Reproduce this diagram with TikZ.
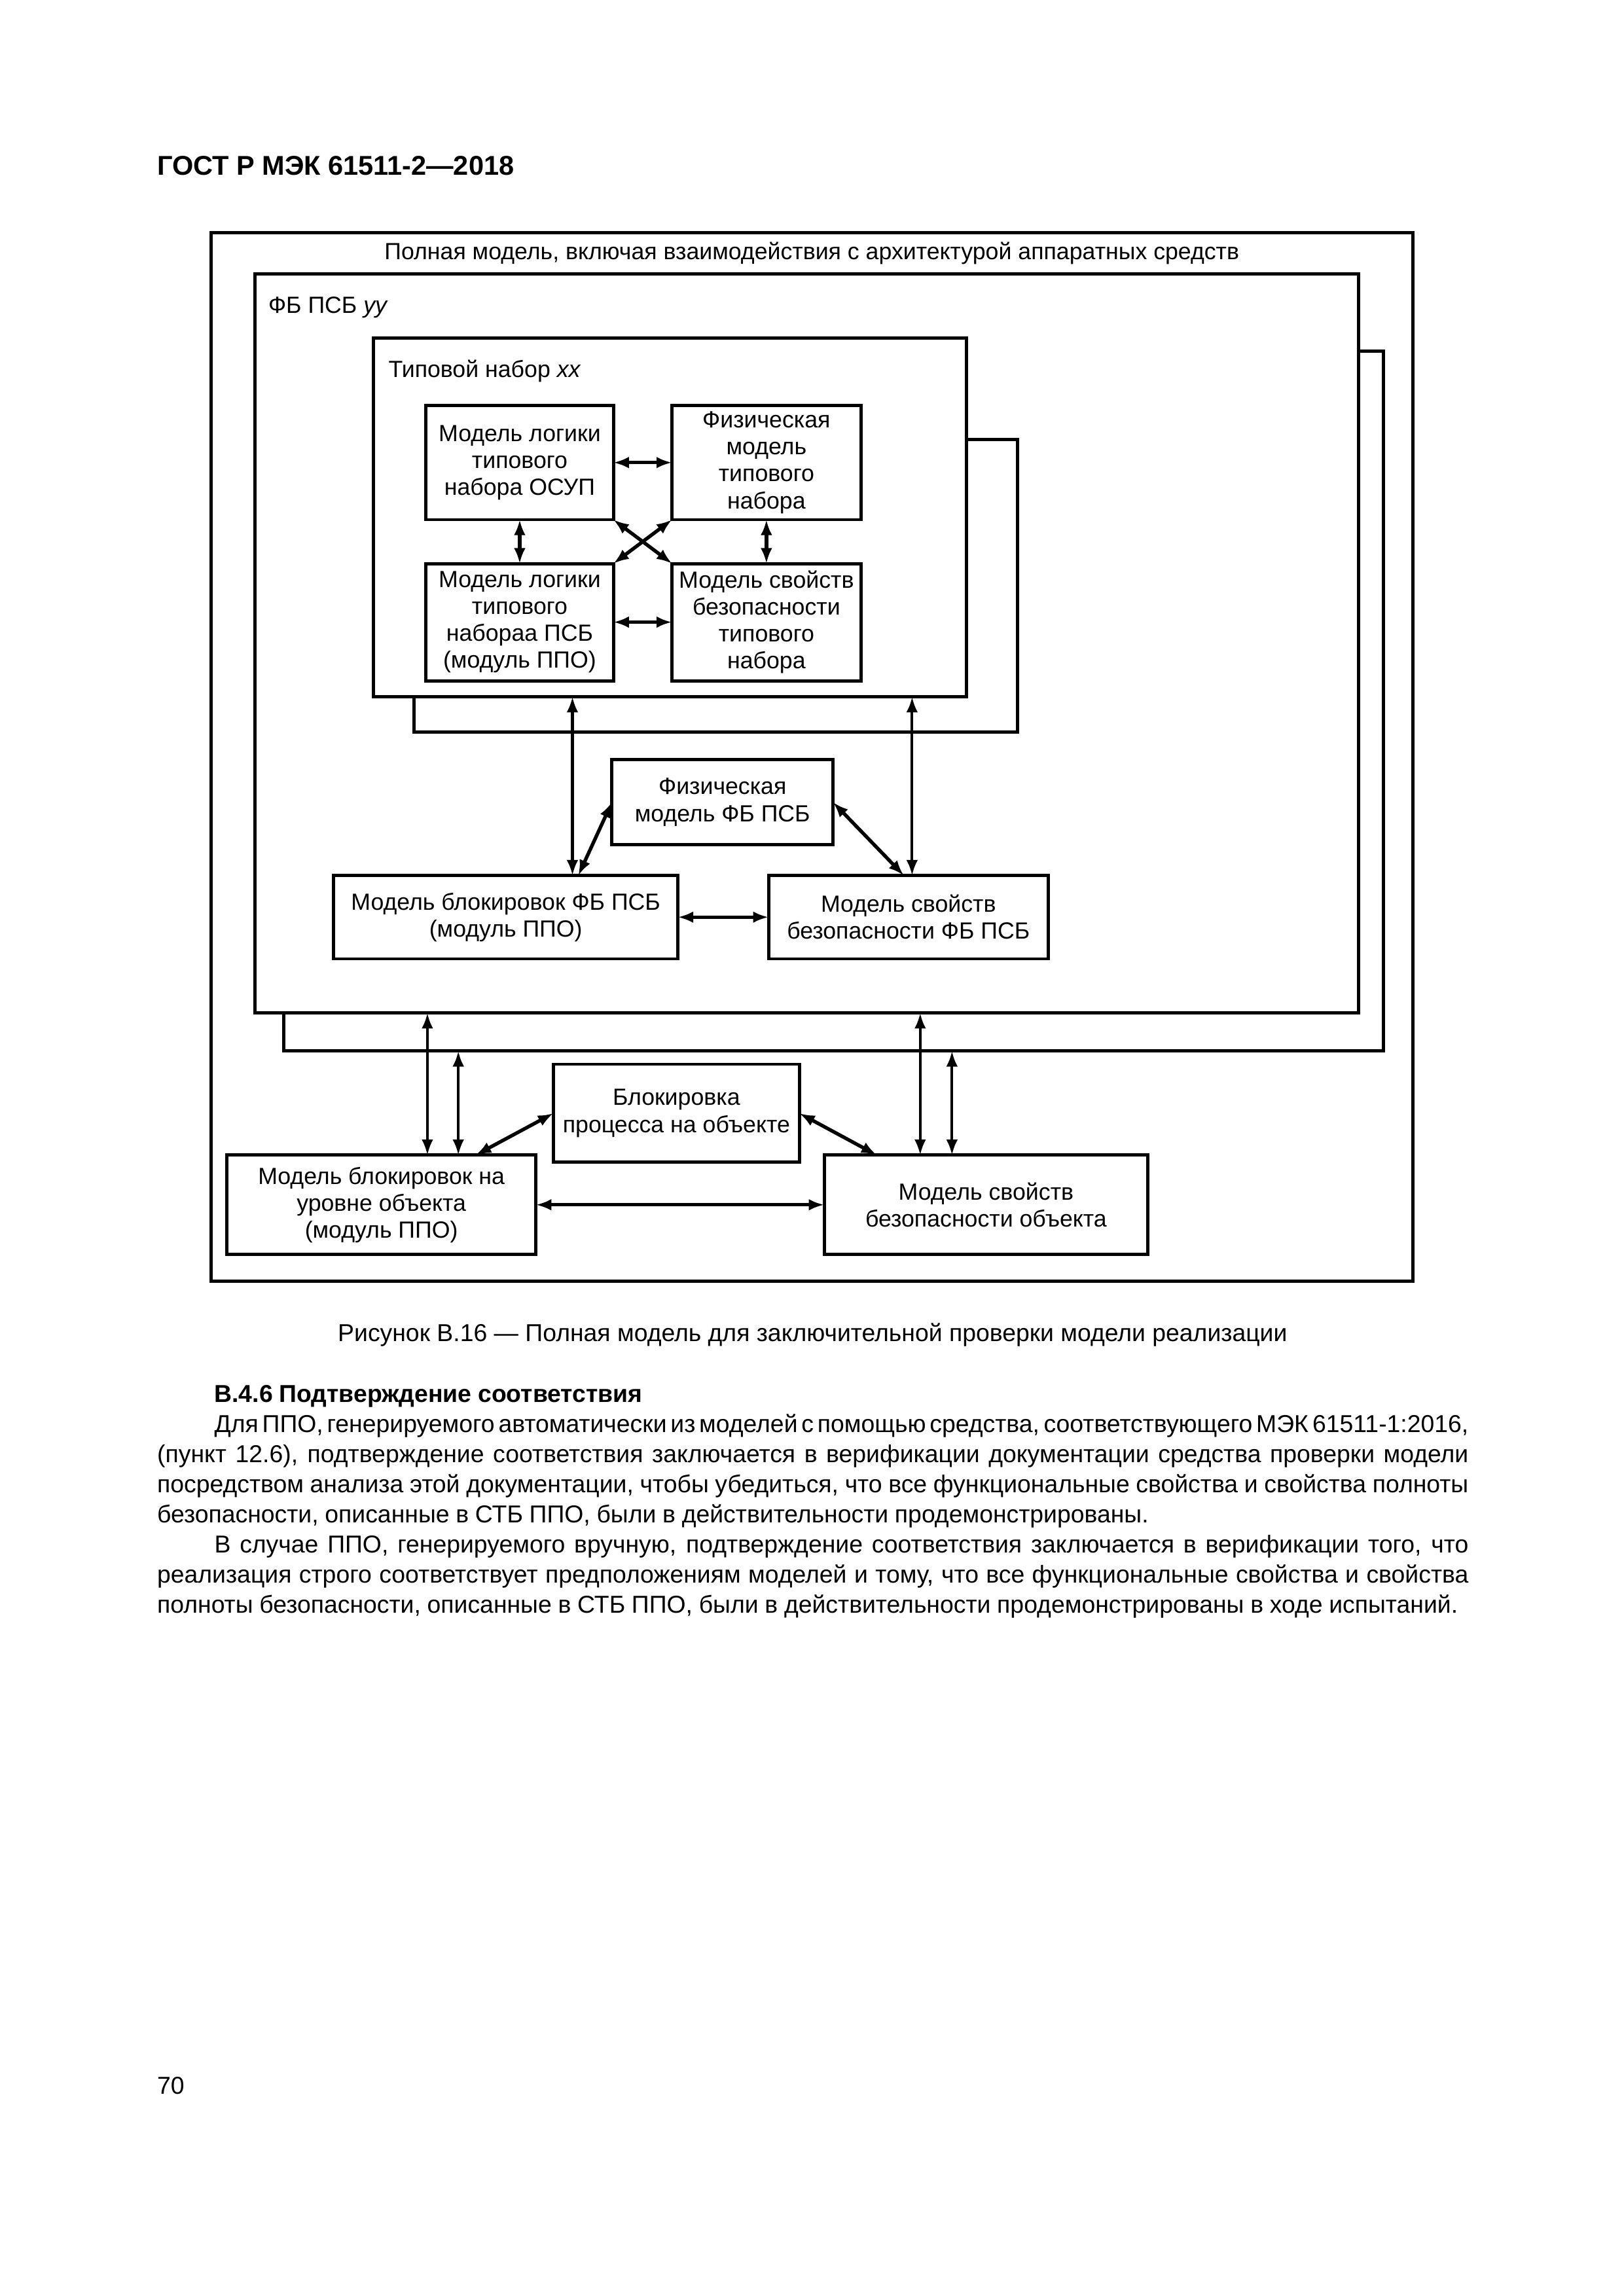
\documentclass[tikz,border=0pt]{standalone}
\usepackage{fontspec}
\setmainfont{Liberation Sans}
\usepackage{tikz}
\usetikzlibrary{arrows.meta}
\tikzstyle{ramka} = [draw, line width=1.2pt, inner sep=0pt, outer sep=0pt]
\tikzstyle{blok} = [draw, line width=1.2pt, fill=white, align=center, inner sep=0pt, outer sep=0pt, font=\fontsize{8.6}{9.9}\selectfont]
\tikzstyle{metka} = [inner sep=0pt, font=\fontsize{8.6}{9.9}\selectfont]
\tikzstyle{svyaz} = [line width=1.3pt, <->]
\tikzstyle{vert} = [line width=1pt, <->]

\begin{document}
\begin{tikzpicture}[x=1mm,y=-1mm,>={Latex[length=2mm,width=1.5mm]}]
	\fill[white] (0,0) rectangle (210,297);
	\useasboundingbox (0,0) rectangle (210,297);
	% page text
	\node[anchor=west, inner sep=0pt, font=\fontsize{10}{12}\selectfont\bfseries] (shapka) at (20.26,21.4) {ГОСТ Р МЭК 61511-2—2018};
	% frames
	\node[ramka, minimum width=155.46mm, minimum height=135.58mm] (polnaya) at (105.0,97.9) {};
	\node[metka] (zagolovok) at (105.0,32.8) {Полная модель, включая взаимодействия с архитектурой аппаратных средств};
	\node[ramka, minimum width=142.21mm, minimum height=90.51mm] (fbten) at (107.845,90.705) {};
	\node[ramka, fill=white, minimum width=142.78mm, minimum height=95.63mm] (fb) at (104.34,83.225) {};
	\node[metka, anchor=west] (fbname) at (34.65,39.8) {ФБ ПСБ \textit{yy}};
	\node[ramka, minimum width=78.02mm, minimum height=37.87mm] (tipten) at (92.6,75.745) {};
	\node[ramka, fill=white, minimum width=76.69mm, minimum height=46.4mm] (tip) at (86.635,66.94) {};
	\node[metka, anchor=west] (tipname) at (50.18,48.0) {Типовой набор \textit{xx}};
	% typical set
	\node[blok, minimum width=24.24mm, minimum height=14.77mm] (lotip) at (67.22,59.835) {Модель логики\\типового\\набора ОСУП};
	\node[blok, minimum width=24.42mm, minimum height=14.77mm] (fiztip) at (99.13,59.835) {Физическая\\модель\\типового\\набора};
	\node[blok, minimum width=24.24mm, minimum height=15.15mm] (psbtip) at (67.22,80.475) {Модель логики\\типового\\набораа ПСБ\\(модуль ППО)};
	\node[blok, minimum width=24.42mm, minimum height=15.15mm] (svtip) at (99.13,80.475) {Модель свойств\\безопасности\\типового\\набора};
	% FB PSB
	\node[blok, minimum width=28.6mm, minimum height=10.98mm] (fizfb) at (93.45,103.77) {Физическая\\модель ФБ ПСБ};
	\node[blok, minimum width=44.5mm, minimum height=10.79mm] (blokfb) at (65.42,118.635) {Модель блокировок ФБ ПСБ\\(модуль ППО)};
	\node[blok, minimum width=36.17mm, minimum height=10.79mm] (svfb) at (117.495,118.635) {Модель свойств\\безопасности ФБ ПСБ};
	% object level
	\node[blok, minimum width=31.81mm, minimum height=12.69mm] (blokpr) at (87.485,144.005) {Блокировка\\процесса на объекте};
	\node[blok, minimum width=39.96mm, minimum height=12.87mm] (blokobj) at (49.33,155.845) {Модель блокировок на\\уровне объекта\\(модуль ППО)};
	\node[blok, minimum width=41.85mm, minimum height=12.87mm] (svobj) at (127.535,155.845) {Модель свойств\\безопасности объекта};
	% connector columns
	\coordinate (a1) at (74.04,0);
	\coordinate (a2) at (117.97,0);
	\coordinate (d1) at (74.8,0);
	\coordinate (d2) at (116.9,0);
	\coordinate (v1) at (55.28,0);
	\coordinate (v2) at (59.28,0);
	\coordinate (v3) at (119.02,0);
	\coordinate (v4) at (123.13,0);
	\coordinate (d3) at (61.53,0);
	\coordinate (d4) at (113.4,0);
	% arrows
	\draw[svyaz] (lotip.east) -- (fiztip.west);
	\draw[svyaz] (psbtip.east) -- (svtip.west);
	\draw[svyaz] (lotip.south) -- (psbtip.north);
	\draw[svyaz] (fiztip.south) -- (svtip.north);
	\draw[svyaz] (lotip.south east) -- (svtip.north west);
	\draw[svyaz] (fiztip.south west) -- (psbtip.north east);
	\draw[vert] (tip.south -| a1) -- (blokfb.north -| a1);
	\draw[vert] (tip.south -| a2) -- (svfb.north -| a2);
	\draw[svyaz] (fizfb.west) -- (blokfb.north -| d1);
	\draw[svyaz] (fizfb.east) -- (svfb.north -| d2);
	\draw[svyaz] (blokfb.east) -- (svfb.west);
	\draw[vert] (blokobj.north -| v1) -- (fb.south -| v1);
	\draw[vert] (blokobj.north -| v2) -- (fbten.south -| v2);
	\draw[vert] (svobj.north -| v3) -- (fb.south -| v3);
	\draw[vert] (svobj.north -| v4) -- (fbten.south -| v4);
	\draw[svyaz] (blokpr.west) -- (blokobj.north -| d3);
	\draw[svyaz] (blokpr.east) -- (svobj.north -| d4);
	\draw[svyaz] (blokobj.east) -- (svobj.west);
	% caption and text
	\node[inner sep=0pt, font=\fontsize{9}{11}\selectfont] (podpis) at (105.1,172.7) {Рисунок В.16 — Полная модель для заключительной проверки модели реализации};
	\node[anchor=north west, text width=169.6mm, align=justify, inner sep=0pt, font=\fontsize{9}{11.1}\selectfont] (tekst) at (20.26,179.1) {%
\spaceskip=0.26em plus 0.3em minus 0.14em
\hspace*{7.4mm}\textbf{В.4.6 Подтверждение соответствия}\par
\hspace*{7.4mm}Для ППО, генерируемого автоматически из моделей с помощью средства, соответствующего \mbox{МЭК\,61511-1:2016,}\linebreak
(пункт 12.6), подтверждение соответствия заключается в верификации документации средства проверки модели\linebreak
посредством анализа этой документации, чтобы убедиться, что все функциональные свойства и свойства полноты\linebreak
безопасности, описанные в СТБ ППО, были в действительности продемонстрированы.\par
\hspace*{7.4mm}В случае ППО, генерируемого вручную, подтверждение соответствия заключается в верификации того, что\linebreak
реализация строго соответствует предположениям моделей и тому, что все функциональные свойства и свойства\linebreak
полноты безопасности, описанные в СТБ ППО, были в действительности продемонстрированы в ходе испытаний.};
	\node[anchor=west, inner sep=0pt, font=\fontsize{9}{11}\selectfont] (stranica) at (20.26,269.8) {70};
\end{tikzpicture}
\end{document}
